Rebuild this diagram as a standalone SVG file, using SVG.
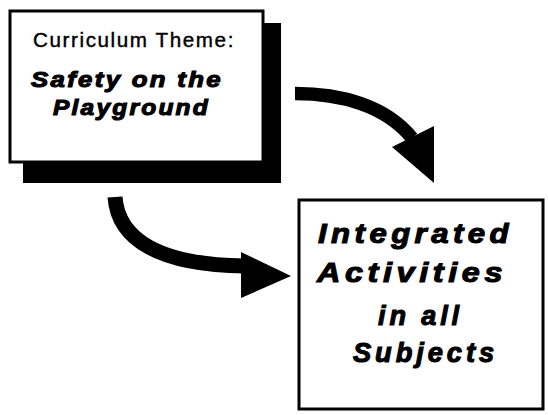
<svg xmlns="http://www.w3.org/2000/svg" width="548" height="415" viewBox="0 0 548 415">
<style>
.box{fill:#fff;stroke:#000;stroke-width:3}
.t{font-family:"Liberation Sans",Arial,Helvetica,sans-serif;fill:#000;stroke:#000;stroke-width:0.4}
.bi{font-family:"Liberation Sans",Arial,Helvetica,sans-serif;font-weight:700;font-style:italic;fill:#000;stroke:#000;stroke-width:1.1}
.band{fill:none;stroke:#000}
</style>
<rect width="548" height="415" fill="#fff"/>
<g id="theme">
<rect x="23" y="23" width="258" height="160" fill="#000"/>
<rect class="box" x="10" y="11" width="253" height="151"/>
<text class="t" x="33" y="47" font-size="19.5" letter-spacing="1.5" textLength="202" lengthAdjust="spacingAndGlyphs">Curriculum Theme:</text>
<text class="bi" x="31" y="87" font-size="22" font-weight="bold" font-style="italic" letter-spacing="2" textLength="192" lengthAdjust="spacingAndGlyphs">Safety on the</text>
<text class="bi" x="53" y="115" font-size="22" font-weight="bold" font-style="italic" letter-spacing="2" textLength="157" lengthAdjust="spacingAndGlyphs">Playground</text>
</g>
<g id="activities">
<rect class="box" x="299" y="200" width="244" height="209"/>
<text class="bi" x="318" y="243" font-size="28" font-weight="bold" font-style="italic" letter-spacing="4" textLength="195" lengthAdjust="spacingAndGlyphs">Integrated</text>
<text class="bi" x="317" y="282" font-size="28" font-weight="bold" font-style="italic" letter-spacing="4" textLength="190" lengthAdjust="spacingAndGlyphs">Activities</text>
<text class="bi" x="378" y="325" font-size="28" font-weight="bold" font-style="italic" letter-spacing="4" textLength="85" lengthAdjust="spacingAndGlyphs">in all</text>
<text class="bi" x="353" y="362" font-size="28" font-weight="bold" font-style="italic" letter-spacing="4" textLength="145" lengthAdjust="spacingAndGlyphs">Subjects</text>
</g>
<g id="connectors">
<path class="band" stroke-width="13.5" d="M295 93.5 C340 93.5 385 105 412 138"/>
<polygon points="392,147 434,126 434,183"/>
<path class="band" stroke-width="15" d="M115 197 C118 240 160 265 245 266"/>
<polygon points="241,252 241,298 291,276"/>
</g>
</svg>
